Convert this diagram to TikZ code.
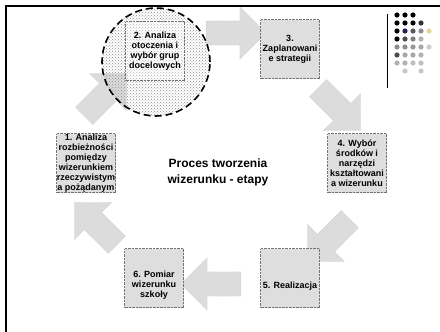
\documentclass[tikz,border=0pt]{standalone}
\usepackage{fontspec}
\setmainfont{Liberation Sans}
\usetikzlibrary{shapes.arrows,patterns}
\definecolor{boxgray}{RGB}{222,222,222}
\definecolor{arrowgray}{RGB}{220,220,220}
\definecolor{dotnavy}{RGB}{30,35,80}
\definecolor{dotyellow}{RGB}{225,215,150}
\tikzset{
  stagebox/.style={draw=black!55, densely dotted, fill=boxgray, minimum width=59pt, minimum height=59pt, inner sep=0pt, font=\fontsize{9}{10}\selectfont\bfseries, align=center},
  blockarrow/.style={single arrow, fill=arrowgray, draw=black!25, densely dotted, inner xsep=0pt, inner ysep=12pt, single arrow head extend=14pt, minimum height=60pt}
}

\begin{document}
\begin{tikzpicture}[x=1pt, y=-1pt]
  \useasboundingbox (0,0) rectangle (440,332);
  \fill[white] (0,0) rectangle (440,332);

  % frame and logo rule
  \draw[line width=1.4pt] (6,332) -- (6,6) -- (440,6);
  \draw[line width=1pt] (387,14) -- (387,88);

  % logo dots
  \foreach \c/\r/\col in {1/1/black,2/1/black,3/1/black,
      1/2/black,2/2/black,3/2/black,4/2/black!80,
      1/3/black,2/3/dotnavy,3/3/black!65,4/3/black!45,5/3/dotyellow,
      1/4/black,2/4/black!70,3/4/black!50,4/4/black!30,
      1/5/black!45,2/5/black!45,3/5/black!40,4/5/black!35,5/5/black!20,
      1/6/black!70,2/6/black!35,3/6/black!35,4/6/black!30,
      1/7/black!30,2/7/black!30,3/7/black!25,4/7/black!25,
      2/8/black!22,4/8/black!22}
    \fill[\col] ({389+8*\c},{7+8*\r}) circle (2.6pt);

  % Arrows between stages
  \node[blockarrow, rotate=45] (a12) at (101,99) {};
  \node[blockarrow, rotate=0] (a23) at (230,33) {};
  \node[blockarrow, rotate=-45] (a34) at (335,105) {};
  \node[blockarrow, rotate=-135] (a45) at (333,236) {};
  \node[blockarrow, rotate=180] (a56) at (217,284) {};
  \node[blockarrow, rotate=135] (a61) at (100,228) {};

  % Highlight round stage 2
  \fill[pattern=crosshatch dots, pattern color=black!45] (156,62) circle (54pt);
  \node[stagebox, fill=white, fill opacity=0.3, text opacity=1] (s2) at (155,51) {2. Analiza\\otoczenia i\\wybór grup\\docelowych};
  \draw[line width=1.6pt, dash pattern=on 7pt off 4pt] (156,62) circle (54pt);

  % Stages
  \node[stagebox] (s1) at (86,163) {1. Analiza\\rozbieżności\\pomiędzy\\wizerunkiem\\rzeczywistym\\a pożądanym};
  \node[stagebox] (s3) at (290,49) {3.\\Zaplanowani\\e strategii};
  \node[stagebox] (s4) at (357,163) {4. Wybór\\środków i\\narzędzi\\kształtowani\\a wizerunku};
  \node[stagebox] (s5) at (290,278) {};
  \node[font=\fontsize{9}{10}\selectfont\bfseries] (s5text) at ([yshift=-8pt]s5.center) {5. Realizacja};
  \node[stagebox] (s6) at (154,278) {};
  \node[font=\fontsize{9}{10}\selectfont\bfseries, align=center] (s6text) at ([yshift=-7pt]s6.center) {6. Pomiar\\wizerunku\\szkoły};

  % Title
  \node[font=\fontsize{12}{16}\selectfont\bfseries, align=center] (title) at (218,172) {Proces tworzenia\\wizerunku - etapy};
\end{tikzpicture}
\end{document}
